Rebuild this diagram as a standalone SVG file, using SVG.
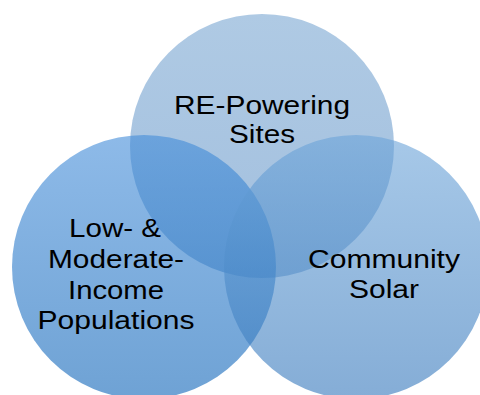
<svg xmlns="http://www.w3.org/2000/svg" width="480" height="395" viewBox="0 0 480 395">
  <defs>
    <linearGradient id="gTop" x1="0" y1="0" x2="0" y2="1">
      <stop offset="0" stop-color="#afcae4"/>
      <stop offset="1" stop-color="#a2bfde"/>
    </linearGradient>
    <linearGradient id="gLeft" x1="0" y1="0" x2="0" y2="1">
      <stop offset="0" stop-color="#428cd9"/>
      <stop offset="1" stop-color="#0e64b8"/>
    </linearGradient>
    <linearGradient id="gRight" x1="0" y1="0" x2="0" y2="1">
      <stop offset="0" stop-color="#6ca4d9"/>
      <stop offset="1" stop-color="#3376bb"/>
    </linearGradient>
  </defs>
  <style>
    .lbl { font-family: "Liberation Sans", Arial, sans-serif; font-size: 25px; fill: #000; text-anchor: middle; }
    .venn { fill-opacity: 0.6; }
  </style>
  <rect width="480" height="395" fill="#ffffff"/>
  <g id="re-powering-sites">
    <circle cx="262" cy="146" r="132" fill="url(#gTop)"/>
  </g>
  <g id="low-moderate-income">
    <circle class="venn" cx="144" cy="267" r="132" fill="url(#gLeft)"/>
  </g>
  <g id="community-solar">
    <circle class="venn" cx="356" cy="267" r="132" fill="url(#gRight)"/>
  </g>
  <g id="labels">
    <text class="lbl" x="262" y="114" textLength="176" lengthAdjust="spacingAndGlyphs">RE-Powering</text>
    <text class="lbl" x="262" y="143" textLength="66" lengthAdjust="spacingAndGlyphs">Sites</text>
    <text class="lbl" x="115" y="237" textLength="92" lengthAdjust="spacingAndGlyphs">Low- &amp;</text>
    <text class="lbl" x="116" y="268" textLength="136" lengthAdjust="spacingAndGlyphs">Moderate-</text>
    <text class="lbl" x="116" y="299" textLength="96" lengthAdjust="spacingAndGlyphs">Income</text>
    <text class="lbl" x="116" y="329" textLength="157" lengthAdjust="spacingAndGlyphs">Populations</text>
    <text class="lbl" x="384" y="268" textLength="152" lengthAdjust="spacingAndGlyphs">Community</text>
    <text class="lbl" x="384" y="298" textLength="70" lengthAdjust="spacingAndGlyphs">Solar</text>
  </g>
</svg>
